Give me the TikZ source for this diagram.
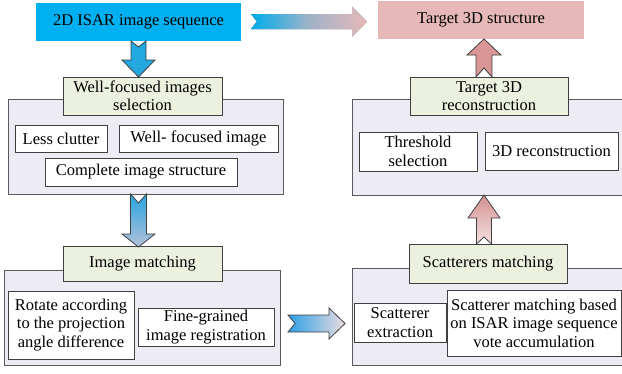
\documentclass[tikz,border=0pt]{standalone}
\usepackage{fontspec}
\setmainfont{Liberation Serif}
\usetikzlibrary{calc}
\definecolor{seqblue}{HTML}{00B0F0}
\definecolor{tgtpink}{HTML}{E6B9B8}
\definecolor{labgreen}{HTML}{EBF1DE}
\definecolor{panelfill}{HTML}{EDEBF3}
\definecolor{rosearrow}{HTML}{D99694}
\definecolor{edgedark}{HTML}{3F3F3F}
\definecolor{edgepanel}{HTML}{595959}
\begin{document}
\begin{tikzpicture}[x=1pt,y=-1pt,
  every node/.style={inner sep=0pt, outer sep=0pt, align=center,
    font=\fontsize{16.5}{18.5}\selectfont},
  headbox/.style={rectangle, draw=none},
  panel/.style={rectangle, draw=edgepanel, line width=0.8pt, fill=panelfill},
  stagebox/.style={rectangle, draw=edgedark, line width=0.8pt, fill=labgreen},
  itembox/.style={rectangle, draw=edgedark, line width=0.8pt, fill=white},
  blockarrow/.style={draw=edgedark, line width=0.8pt, line join=miter}]
\useasboundingbox (0,0) rectangle (622,373);
\clip (0,0) rectangle (622,373);

% start and goal
\node[headbox, fill=seqblue, minimum width=205pt, minimum height=38pt] (seq) at (138.5,22) {2D ISAR image sequence};
\node[headbox, fill=tgtpink, minimum width=206pt, minimum height=38pt] (tgt) at (481,20) {Target 3D structure};

% stage 1: image selection
\node[panel, minimum width=275pt, minimum height=95pt] (bigA) at (145.5,146.5) {};
\node[stagebox, minimum width=159pt, minimum height=38pt] (sel) at (142.5,96) {Well-focused images\\selection};
\node[itembox, minimum width=92pt, minimum height=27pt] (less) at (61,138.5) {Less clutter};
\node[itembox, minimum width=159pt, minimum height=27pt] (wfi) at (198.5,138.5) {Well- focused image};
\node[itembox, minimum width=192pt, minimum height=28pt] (cis) at (141,172) {Complete image structure};

% stage 2: image matching
\node[panel, minimum width=276pt, minimum height=95pt] (bigB) at (142,317.5) {};
\node[stagebox, minimum width=159pt, minimum height=35pt] (match) at (142.5,263.5) {Image matching};
\node[itembox, minimum width=126pt, minimum height=68pt] (rot) at (71,325) {Rotate according\\to the projection\\angle difference};
\node[itembox, minimum width=136pt, minimum height=38pt] (fine) at (206,327) {Fine-grained\\image registration};

% stage 3: scatterer matching
\node[panel, minimum width=270pt, minimum height=97pt] (bigD) at (487,316.5) {};
\node[stagebox, minimum width=158pt, minimum height=39pt] (scm) at (488,263.5) {Scatterers matching};
\node[itembox, minimum width=92pt, minimum height=39pt] (sce) at (400,322.5) {Scatterer\\extraction};
\node[itembox, minimum width=174pt, minimum height=66pt] (smb) at (534,323) {Scatterer matching based\\on ISAR image sequence\\vote accumulation};

% stage 4: reconstruction
\node[panel, minimum width=270pt, minimum height=96pt] (bigC) at (487,147.5) {};
\node[stagebox, minimum width=158pt, minimum height=38pt] (rec) at (489,96) {Target 3D\\reconstruction};
\node[itembox, minimum width=118pt, minimum height=39pt] (thr) at (418,151.5) {Threshold\\selection};
\node[itembox, minimum width=133pt, minimum height=38pt] (r3d) at (551.5,151) {3D reconstruction};

% overall flow from sequence to structure
\fill[left color=seqblue!80!black!10!seqblue, right color=tgtpink, middle color={rgb,255:red,160;green,178;blue,200}]
  ($(seq.east)+(10,-0.5)$) ++(0,-7.5) -- ++(101,0) -- ++(0,-7.5) -- ++(15,15) -- ++(-15,15)
  -- ++(0,-7.5) -- ++(-101,0) -- ++(6,-7.5) -- cycle;

% sequence -> selection
\draw[blockarrow, top color={rgb,255:red,30;green,170;blue,225}, bottom color={rgb,255:red,40;green,165;blue,222}]
  (seq.south) ++(-7.5,0) -- ++(7.5,6) -- ++(7.5,-6) -- ++(0,19) -- ++(9,0) -- ++(-16.5,17)
  -- ++(-16.5,-17) -- ++(9,0) -- cycle;

% selection -> matching
\draw[blockarrow, top color={rgb,255:red,40;green,165;blue,223}, bottom color={rgb,255:red,178;green,192;blue,218}]
  (bigA.south -| seq.south) ++(-8,0) -- ++(8,9) -- ++(8,-9) -- ++(0,40) -- ++(8.5,0)
  -- ++(-16.5,13) -- ++(-16.5,-13) -- ++(8.5,0) -- cycle;

% matching -> scatterers
\draw[blockarrow, left color={rgb,255:red,44;green,160;blue,228}, right color={rgb,255:red,236;green,220;blue,224}]
  ($(bigB.east)+(8,6)$) ++(0,-8.5) -- ++(41,0) -- ++(0,-7) -- ++(16,15.5) -- ++(-16,15.5)
  -- ++(0,-7) -- ++(-41,0) -- ++(7,-8.5) -- cycle;

% scatterers -> reconstruction
\draw[blockarrow, top color={rgb,255:red,212;green,144;blue,143}, bottom color={rgb,255:red,244;green,226;blue,226}]
  ($(scm.north)+(-4,0)$) ++(-7.5,0) -- ++(7.5,-7) -- ++(7.5,7) -- ++(0,-26) -- ++(8.5,0)
  -- ++(-16,-23) -- ++(-16,23) -- ++(8.5,0) -- cycle;

% reconstruction -> structure
\draw[blockarrow, fill=rosearrow]
  ($(rec.north)+(-5,0)$) ++(-8,0) -- ++(8,-9) -- ++(8,9) -- ++(0,-22) -- ++(9,0)
  -- ++(-17,-16) -- ++(-17,16) -- ++(9,0) -- cycle;
\end{tikzpicture}
\end{document}
